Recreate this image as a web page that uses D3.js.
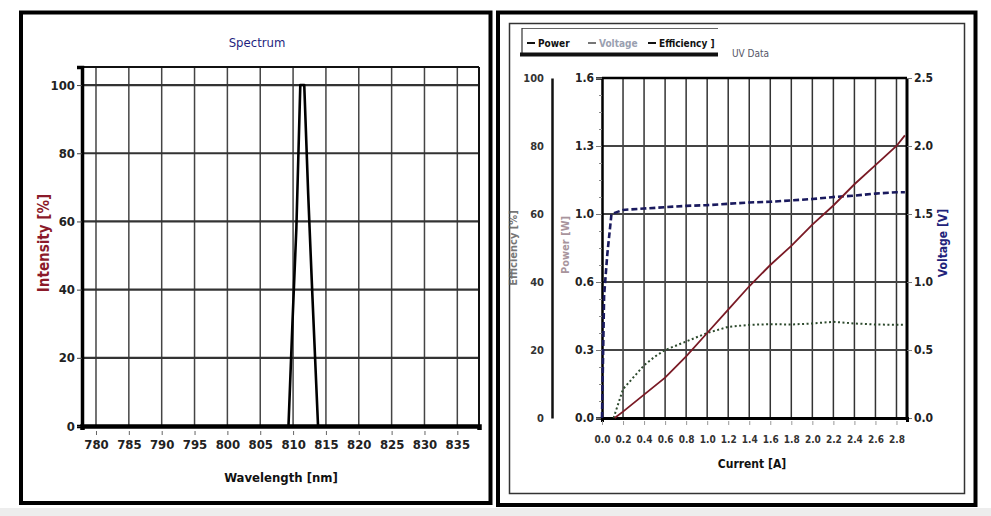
<!DOCTYPE html>
<html><head><meta charset="utf-8">
<script src="https://cdn.jsdelivr.net/npm/d3@7"></script>
<style>
html,body{margin:0;padding:0;background:#fff;}
svg{display:block;}
text{font-family:"DejaVu Sans Condensed","DejaVu Sans",sans-serif;font-stretch:condensed;}
</style></head><body>
<svg id="c" width="991" height="516"></svg>
<script>
// ---------- Data: Spectrum ----------
const spectrumTitle = "Spectrum";
const wavelengthTicks = [780,785,790,795,800,805,810,815,820,825,830,835];
const intensityTicks = [0,20,40,60,80,100];
const spectrumWavelength = [809.3, 809.9, 810.5, 811.1, 811.7, 812.3, 812.9, 813.8];
const spectrumIntensity  = [0, 30, 58, 100, 100, 68, 40, 0];

// ---------- Data: UV data ----------
const uvTitle = "UV Data";
const currentTicks = [0,0.2,0.4,0.6,0.8,1,1.2,1.4,1.6,1.8,2,2.2,2.4,2.6,2.8];
const powerTicks = [0,0.32,0.64,0.96,1.28,1.6];
const voltageTicks = [0,0.5,1.0,1.5,2.0,2.5];
const efficiencyTicks = [0,20,40,60,80,100];
const powerCurrent = [0.12,0.2,0.4,0.6,0.8,1.0,1.2,1.4,1.6,1.8,2.0,2.2,2.4,2.6,2.8,2.88];
const powerValues  = [0,0.03,0.11,0.19,0.29,0.40,0.51,0.62,0.72,0.81,0.91,1.00,1.10,1.19,1.28,1.33];
const voltageCurrent = [0,0.02,0.05,0.09,0.2,0.4,0.6,0.8,1.0,1.2,1.4,1.6,1.8,2.0,2.2,2.4,2.6,2.8,2.88];
const voltageValues  = [0,0.9,1.2,1.5,1.53,1.54,1.55,1.56,1.565,1.575,1.585,1.59,1.60,1.61,1.625,1.635,1.65,1.66,1.66];
const efficiencyCurrent = [0.11,0.2,0.3,0.4,0.5,0.6,0.8,1.0,1.2,1.4,1.6,1.8,2.0,2.2,2.4,2.6,2.8,2.88];
const efficiencyValues  = [0,8.5,12,15.5,18,20,22.5,25,26.8,27.4,27.6,27.5,27.8,28.3,27.8,27.5,27.4,27.4];
const legendItems = ["Power","Voltage","Efficiency ]"];

const svg = d3.select("#c");
svg.append("rect").attr("x",0).attr("y",0).attr("width",991).attr("height",516).attr("fill","#fff");
svg.append("rect").attr("x",0).attr("y",508).attr("width",991).attr("height",8).attr("fill","#ededed");

// ================= LEFT PANEL =================
svg.append("rect").attr("x",21).attr("y",12.5).attr("width",469.5).attr("height",490.5)
  .attr("fill","#fff").attr("stroke","#000").attr("stroke-width",4);

const L = {l:82, r:479, t:67, b:426};
const xS = d3.scaleLinear().domain([777.87,838.3]).range([L.l,L.r]);
const yS = d3.scaleLinear().domain([0,105.3]).range([L.b,L.t]);
const gL = svg.append("g");

// grid
gL.selectAll(".vg").data(wavelengthTicks).join("line")
  .attr("x1",d=>xS(d)).attr("x2",d=>xS(d)).attr("y1",L.t).attr("y2",L.b)
  .attr("stroke","#444").attr("stroke-width",1.5);
gL.selectAll(".hg").data(intensityTicks.filter(d=>d>0)).join("line")
  .attr("x1",L.l).attr("x2",L.r).attr("y1",d=>yS(d)).attr("y2",d=>yS(d))
  .attr("stroke","#333").attr("stroke-width",2.2);
// frame
gL.append("line").attr("x1",L.l).attr("x2",L.r).attr("y1",L.t).attr("y2",L.t).attr("stroke","#111").attr("stroke-width",2);
gL.append("line").attr("x1",L.r).attr("x2",L.r).attr("y1",L.t).attr("y2",L.b).attr("stroke","#111").attr("stroke-width",2);

// axes
const axL = gL.append("g").attr("transform",`translate(${L.l},0)`)
  .call(d3.axisLeft(yS).tickValues(intensityTicks).tickSize(5).tickPadding(2));
axL.select(".domain").attr("stroke","#000").attr("stroke-width",3.5);
axL.selectAll(".tick line").attr("stroke","#444").attr("stroke-width",1);
axL.selectAll("text").attr("font-size",13).attr("font-weight","bold").attr("fill","#222");

const axB = gL.append("g").attr("transform",`translate(0,${L.b})`)
  .call(d3.axisBottom(xS).tickValues(wavelengthTicks).tickSize(4).tickPadding(10));
axB.select(".domain").attr("stroke","#000").attr("stroke-width",4.5);
axB.selectAll(".tick line").attr("stroke","#666").attr("stroke-width",1).attr("transform","translate(0,5)");
axB.selectAll("text").attr("font-size",13).attr("font-weight","bold").attr("fill","#222");

// spectrum line
const specPts = spectrumWavelength.map((w,i)=>[w,spectrumIntensity[i]]);
gL.append("path").datum(specPts)
  .attr("d",d3.line().x(d=>xS(d[0])).y(d=>yS(d[1])))
  .attr("fill","none").attr("stroke","#000").attr("stroke-width",2.6).attr("stroke-linejoin","round");

// labels
gL.append("text").attr("x",257).attr("y",47).attr("text-anchor","middle")
  .attr("font-size",13).attr("fill","#1f1f80").text(spectrumTitle);
gL.append("text").attr("x",281).attr("y",482).attr("text-anchor","middle")
  .attr("font-size",13).attr("font-weight","bold").attr("fill","#111").text("Wavelength [nm]");
gL.append("text").attr("transform","translate(49,243) rotate(-90)").attr("text-anchor","middle")
  .attr("font-size",15).attr("font-weight","bold").attr("fill","#8b1a2a").text("Intensity [%]");

// ================= RIGHT PANEL =================
svg.append("rect").attr("x",498).attr("y",12.5).attr("width",477.5).attr("height",492.5)
  .attr("fill","#fff").attr("stroke","#000").attr("stroke-width",4);
svg.append("rect").attr("x",509.5).attr("y",23.5).attr("width",455).attr("height",470)
  .attr("fill","none").attr("stroke","#333").attr("stroke-width",1.5);

const R = {l:602, r:907, t:78, b:418};
const xC = d3.scaleLinear().domain([0,2.9]).range([R.l,R.r]);
const yP = d3.scaleLinear().domain([0,1.6]).range([R.b,R.t]);
const yV = d3.scaleLinear().domain([0,2.5]).range([R.b,R.t]);
const yE = d3.scaleLinear().domain([0,100]).range([R.b,R.t]);
const gR = svg.append("g");

// grid
gR.selectAll(".vg").data(currentTicks.filter(d=>d>0)).join("line")
  .attr("x1",d=>xC(d)).attr("x2",d=>xC(d)).attr("y1",R.t).attr("y2",R.b)
  .attr("stroke","#333").attr("stroke-width",1.5);
gR.selectAll(".hg").data(powerTicks.filter(d=>d>0 && d<1.6)).join("line")
  .attr("x1",R.l).attr("x2",R.r).attr("y1",d=>yP(d)).attr("y2",d=>yP(d))
  .attr("stroke","#444").attr("stroke-width",2);
// frame
gR.append("line").attr("x1",R.l).attr("x2",R.r).attr("y1",R.t).attr("y2",R.t).attr("stroke","#000").attr("stroke-width",2.5);
gR.append("line").attr("x1",R.r).attr("x2",R.r).attr("y1",R.t).attr("y2",R.b).attr("stroke","#000").attr("stroke-width",3);

// left (power) axis
const axP = gR.append("g").attr("transform",`translate(${R.l},0)`)
  .call(d3.axisLeft(yP).tickValues(powerTicks).tickFormat(d3.format(".1f")).tickSize(6).tickPadding(2));
axP.select(".domain").attr("stroke","#000").attr("stroke-width",2.5);
axP.selectAll(".tick line").attr("stroke","#777");
axP.selectAll("text").attr("font-size",12).attr("font-weight","bold").attr("fill","#222");
gR.append("g").attr("transform",`translate(${R.l},0)`)
  .call(d3.axisLeft(yP).tickValues(d3.range(0,1.6,0.08).filter((d,i)=>i%4!==0)).tickSize(3).tickFormat(""))
  .call(g=>{g.select(".domain").remove(); g.selectAll("line").attr("stroke","#888");});

// right (voltage) axis
const axV = gR.append("g").attr("transform",`translate(${R.r},0)`)
  .call(d3.axisRight(yV).tickValues(voltageTicks).tickFormat(d3.format(".1f")).tickSize(5).tickPadding(2));
axV.select(".domain").remove();
axV.selectAll(".tick line").attr("stroke","#777");
axV.selectAll("text").attr("font-size",12).attr("font-weight","bold").attr("fill","#222");

// efficiency axis (far left)
const axE = gR.append("g").attr("transform",`translate(552,0)`)
  .call(d3.axisLeft(yE).tickValues(efficiencyTicks).tickSize(0).tickPadding(8));
axE.select(".domain").attr("stroke","#111").attr("stroke-width",2.5);
axE.selectAll("text").attr("font-size",11).attr("font-weight","bold").attr("fill","#333");

// bottom axis
const axC = gR.append("g").attr("transform",`translate(0,${R.b})`)
  .call(d3.axisBottom(xC).tickValues(currentTicks).tickSize(4).tickPadding(14));
axC.select(".domain").attr("stroke","#000").attr("stroke-width",3);
axC.selectAll(".tick line").attr("stroke","#999").attr("transform","translate(0,3)");
axC.selectAll("text").attr("font-size",10).attr("font-weight","bold").attr("fill","#333");

// lines
const lineGen = (ys)=>d3.line().x(d=>xC(d[0])).y(d=>ys(d[1]));
gR.append("path").datum(efficiencyCurrent.map((c,i)=>[c,efficiencyValues[i]]))
  .attr("d",lineGen(yE)).attr("fill","none").attr("stroke","#2d4a2d")
  .attr("stroke-width",2).attr("stroke-dasharray","2,2.5");
gR.append("path").datum(voltageCurrent.map((c,i)=>[c,voltageValues[i]]))
  .attr("d",lineGen(yV)).attr("fill","none").attr("stroke","#1a1a5e")
  .attr("stroke-width",2.6).attr("stroke-dasharray","6,3");
gR.append("path").datum(powerCurrent.map((c,i)=>[c,powerValues[i]]))
  .attr("d",lineGen(yP)).attr("fill","none").attr("stroke","#7a1a25")
  .attr("stroke-width",1.8);

// axis titles
gR.append("text").attr("x",752).attr("y",468).attr("text-anchor","middle")
  .attr("font-size",12).attr("font-weight","bold").attr("fill","#111").text("Current [A]");
gR.append("text").attr("transform","translate(947,243) rotate(-90)").attr("text-anchor","middle")
  .attr("font-size",12).attr("font-weight","bold").attr("fill","#22227a").text("Voltage [V]");
gR.append("text").attr("transform","translate(569,245) rotate(-90)").attr("text-anchor","middle")
  .attr("font-size",11).attr("font-weight","bold").attr("fill","#a8949c").text("Power [W]");
gR.append("text").attr("transform","translate(517,248) rotate(-90)").attr("text-anchor","middle")
  .attr("font-size",11).attr("font-weight","bold").attr("fill","#555").attr("opacity",0.8).text("Efficiency [%]");

// legend
gR.append("rect").attr("x",522).attr("y",28).attr("width",196).attr("height",27).attr("fill","#fff");
gR.append("line").attr("x1",522).attr("x2",718).attr("y1",28.5).attr("y2",28.5).attr("stroke","#666").attr("stroke-width",1);
gR.append("line").attr("x1",522).attr("x2",522).attr("y1",28).attr("y2",55).attr("stroke","#333").attr("stroke-width",1.2);
gR.append("rect").attr("x",520).attr("y",52.5).attr("width",198).attr("height",4).attr("fill","#111");
const legX = [527,588,648];
const legCol = ["#111","#9aa0b0","#111"];
legendItems.forEach((t,i)=>{
  gR.append("line").attr("x1",legX[i]).attr("x2",legX[i]+8).attr("y1",43).attr("y2",43)
    .attr("stroke", i===1?"#777":"#111").attr("stroke-width",2);
  gR.append("text").attr("x",legX[i]+11).attr("y",47).attr("font-size",10).attr("font-weight","bold")
    .attr("fill",legCol[i]).text(t);
});
gR.append("text").attr("x",732).attr("y",57).attr("font-size",10).attr("fill","#556")
  .text(uvTitle);
</script>
</body></html>
